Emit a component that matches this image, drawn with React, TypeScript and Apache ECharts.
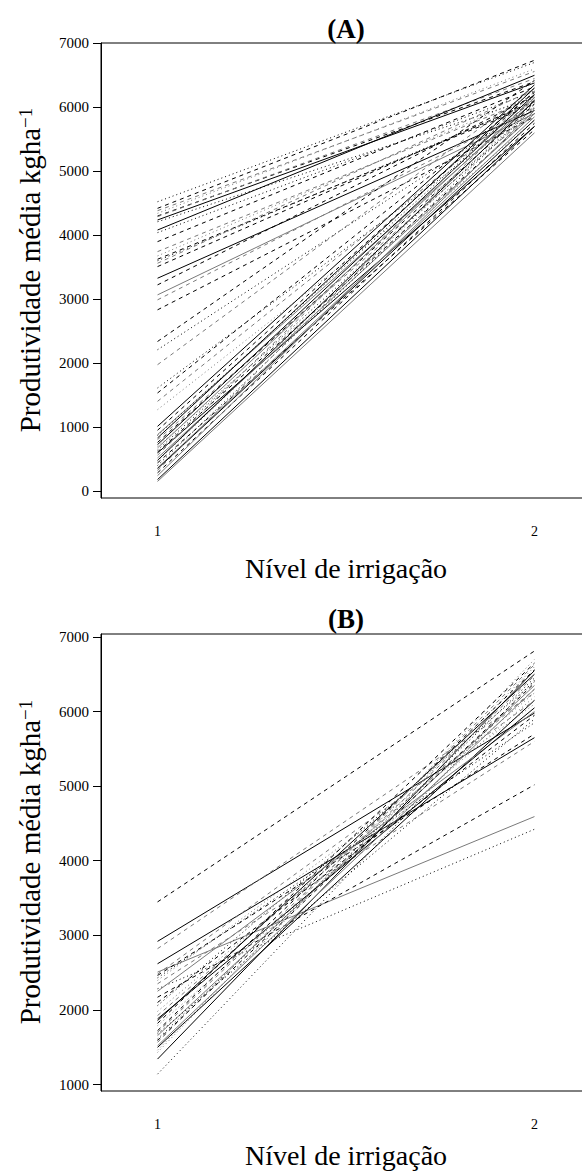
import React, { useEffect, useRef } from "react";
import * as echarts from "echarts";

// ---------- data ----------
const irrigationLevels = [1, 2];
const yTicksA = [0, 1000, 2000, 3000, 4000, 5000, 6000, 7000];
const yTicksB = [1000, 2000, 3000, 4000, 5000, 6000, 7000];

// Panel A: mean yield at level 1 and level 2, one entry per line
const panelA_level1 = [
  4523, 4420, 4383, 4342, 4300, 4290, 4238, 4210, 4081, 4040, 3899, 3743, 3676, 3624, 3600, 3561, 3509, 3327, 3223, 3067, 2989, 2833,
  2338, 2209, 1975, 1611, 1533, 1402, 1272,
  1011, 950, 882, 870, 830, 804, 760, 726, 700, 674, 640, 610, 596, 560, 518, 480, 470, 440, 400, 362, 350, 320, 284, 240, 179, 150,
];
const panelA_level2 = [
  6700, 6735, 6560, 6600, 6400, 6450, 6380, 6150, 6500, 6250, 6320, 6150, 6200, 6050, 6080, 6280, 6100, 5950, 6180, 5900, 6000, 5850,
  6420, 6050, 6300, 5980, 6230, 6120, 5900,
  6350, 6250, 6100, 6200, 6300, 5950, 6050, 6200, 5800, 6150, 6000, 5900, 5700, 6250, 5900, 6100, 6050, 5650, 6000, 5850, 5800, 6180, 5750, 5950, 5700, 5600,
];

// Panel B
const panelB_level1 = [
  3448, 2919, 2821, 2619, 2507, 2283, 2462, 2395, 2350, 2170, 2058, 1924, 1857, 1789, 1722, 1655, 1610,
  1565, 1498, 1430, 1341, 1139, 2250, 2100, 1980, 1880, 1700, 1680, 1590, 1520, 1460, 2480, 2430, 1820,
];
const panelB_level2 = [
  6812, 5980, 6250, 5650, 4592, 4422, 5700, 6100, 5600, 5018, 6400, 6300, 6500, 6200, 6560, 6350, 6450,
  6630, 6150, 6700, 6550, 6420, 6000, 5950, 6250, 6050, 6480, 5900, 6380, 6300, 6600, 6150, 5850, 6650,
];

// line type codes (0 solid black, 1 dashed black, 2 dotted black, 3 solid gray, 4 dashed gray, 5 dotted gray)
const ltyA = [
  2, 1, 4, 5, 1, 4, 0, 2, 0, 2, 1, 4, 5, 1, 2, 4, 1, 0, 1, 3, 4, 1,
  1, 2, 4, 2, 1, 4, 5,
  0, 1, 3, 2, 0, 4, 1, 0, 5, 3, 2, 1, 0, 4, 3, 0, 5, 1, 2, 3, 0, 4, 1, 3, 0, 3,
];
const ltyB = [
  1, 0, 4, 0, 3, 2, 1, 5, 4, 1, 2, 4, 0, 5, 1, 3, 2,
  4, 0, 5, 0, 2, 3, 1, 5, 0, 4, 2, 1, 3, 5, 4, 2, 1,
];

const LINE_STYLES: any[] = [
  { color: "#000000", type: "solid" },
  { color: "#000000", type: [4, 4] },
  { color: "#000000", type: [1, 3] },
  { color: "#7a7a7a", type: "solid" },
  { color: "#7a7a7a", type: [4, 4] },
  { color: "#7a7a7a", type: [1, 3] },
];

const FONT = "Liberation Serif";

function buildSeries(l1: number[], l2: number[], lty: number[], idx: number) {
  return l1.map((v, i) => ({
    type: "line",
    xAxisIndex: idx,
    yAxisIndex: idx,
    data: [
      [irrigationLevels[0], v],
      [irrigationLevels[1], l2[i]],
    ],
    symbol: "none",
    silent: true,
    lineStyle: { width: 1, ...LINE_STYLES[lty[i] % LINE_STYLES.length] },
  }));
}

function yTitle(x: number, y: number) {
  return {
    type: "text",
    x,
    y,
    rotation: Math.PI / 2,
    style: {
      text: "{a|Produtividade média kgha}{s|−1}",
      textAlign: "center",
      textVerticalAlign: "middle",
      fill: "#000",
      fontFamily: FONT,
      rich: {
        a: { fontSize: 29, fontFamily: FONT, fill: "#000" },
        s: { fontSize: 19, fontFamily: FONT, fill: "#000", verticalAlign: "top" },
      },
    },
  };
}

function centerText(text: string, x: number, y: number, size: number, bold = false) {
  return {
    type: "text",
    x,
    y,
    style: {
      text,
      fontSize: size,
      fontFamily: FONT,
      fontWeight: bold ? "bold" : "normal",
      fill: "#000",
      textAlign: "center",
      textVerticalAlign: "middle",
    },
  };
}

export default function App() {
  const ref = useRef<HTMLDivElement>(null);
  useEffect(() => {
    if (!ref.current) return;
    const chart = echarts.init(ref.current, undefined, { renderer: "svg" });
    const xAxisBase = (gridIndex: number) => ({
      type: "value",
      gridIndex,
      min: 0.85,
      max: 2.15,
      axisLine: { show: false },
      axisTick: { show: false },
      splitLine: { show: false },
      axisLabel: {
        customValues: irrigationLevels,
        margin: 26,
        fontSize: 14,
        fontFamily: FONT,
        color: "#000",
        formatter: (v: number) => String(v),
      },
    });
    const yAxisBase = (gridIndex: number, min: number, max: number, ticks: number[]) => ({
      type: "value",
      gridIndex,
      min,
      max,
      axisLine: { show: true, lineStyle: { color: "#000", width: 1 } },
      axisTick: { show: true, length: 8, customValues: ticks, lineStyle: { color: "#000", width: 1 } },
      splitLine: { show: false },
      axisLabel: {
        customValues: ticks,
        margin: 12,
        fontSize: 15,
        fontFamily: FONT,
        color: "#000",
        formatter: (v: number) => String(v),
      },
    });
    chart.setOption({
      animation: false,
      backgroundColor: "#ffffff",
      grid: [
        { left: 101, top: 43, width: 490, height: 455, show: true, borderColor: "#000", borderWidth: 1, backgroundColor: "transparent" },
        { left: 101, top: 634, width: 490, height: 457, show: true, borderColor: "#000", borderWidth: 1, backgroundColor: "transparent" },
      ],
      xAxis: [xAxisBase(0), xAxisBase(1)],
      yAxis: [yAxisBase(0, -109, 7005, yTicksA), yAxisBase(1, 913, 7040, yTicksB)],
      series: [
        ...buildSeries(panelA_level1, panelA_level2, ltyA, 0),
        ...buildSeries(panelB_level1, panelB_level2, ltyB, 1),
      ],
      graphic: [
        centerText("(A)", 346, 29, 27, true),
        centerText("Nível de irrigação", 346, 568, 28),
        yTitle(30, 270),
        centerText("(B)", 346, 619, 27, true),
        centerText("Nível de irrigação", 346, 1155, 28),
        yTitle(30, 862),
      ],
    });
    return () => chart.dispose();
  }, []);
  return (
    <div style={{ position: "absolute", left: 0, top: 0, width: 582, height: 1171, overflow: "hidden", background: "#fff" }}>
      <div ref={ref} style={{ width: 600, height: 1171 }} />
    </div>
  );
}
